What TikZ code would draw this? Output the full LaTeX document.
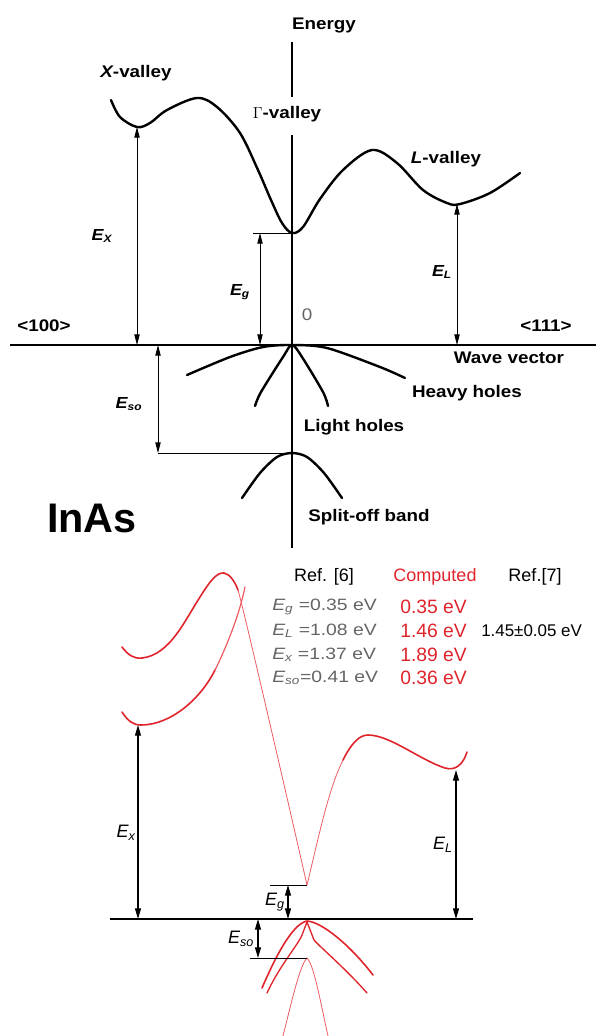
\documentclass[tikz,border=0pt]{standalone}
\usepackage{fontspec}
\setmainfont{Liberation Sans}
\newfontfamily\labfont{Liberation Sans}[FakeStretch=1.12]
\newfontfamily\grayfont{Liberation Sans}[FakeStretch=1.18]
\usetikzlibrary{arrows.meta}
\definecolor{bandred}{RGB}{224,36,44}
\definecolor{lightred}{RGB}{236,92,98}
\definecolor{txtgray}{RGB}{100,100,100}
\begin{document}
\begin{tikzpicture}[x=0.75pt,y=-0.75pt,
  axis/.style={line width=1.5pt},
  band/.style={line width=1.8pt, line cap=round, line join=round},
  dim/.style={line width=0.7pt, {Triangle[length=8pt,width=4pt]}-{Triangle[length=8pt,width=4pt]}},
  dimb/.style={line width=0.9pt, {Triangle[length=8pt,width=4.5pt]}-{Triangle[length=8pt,width=4.5pt]}},
  tickline/.style={line width=0.7pt},
  lab/.style={font=\labfont\bfseries\fontsize{12.6}{14}\selectfont, inner sep=0pt},
  elab/.style={font=\labfont\bfseries\itshape\fontsize{12}{14}\selectfont, inner sep=0pt},
  belab/.style={font=\itshape\fontsize{13.5}{15}\selectfont, inner sep=0pt},
  rband/.style={bandred, line width=1.2pt, line cap=round},
  rthin/.style={lightred, line width=0.6pt, line cap=round},
  hdr/.style={font=\fontsize{13.5}{15}\selectfont, inner sep=0pt},
  gtxt/.style={font=\grayfont\fontsize{12.3}{14}\selectfont, text=txtgray, inner sep=0pt, anchor=west},
  rtxt/.style={font=\fontsize{14.5}{16}\selectfont, text=bandred, inner sep=0pt, anchor=west}
]
\useasboundingbox (0,0) rectangle (596,1036);

% ================= TOP DIAGRAM =================
% axes
\coordinate (ey0) at (292,42);
\coordinate (ey1) at (292,97);
\coordinate (ey2) at (292,135);
\coordinate (ey3) at (292,548);
\draw[axis] (ey0) -- (ey1);
\draw[axis] (ey2) -- (ey3);
\coordinate (kx0) at (10,345);
\coordinate (kx1) at (596,345);
\draw[axis] (kx0) -- (kx1);

% conduction band
\draw[band] plot[smooth,tension=0.55] coordinates {(111,100) (120,117) (137,127) (150,123) (167,110) (197,98) (217,107) (240,133) (258,170) (271,200) (282,223) (292,233) (303,227) (320,199) (343,170) (372,150) (397,163) (423,190) (447,203) (460,204) (490,193) (520,173)};

% valence bands
\draw[band] plot[smooth,tension=0.5] coordinates {(187,375) (230,357) (263,347) (292,345) (327,348) (380,367) (405,378)};
\draw[band] plot[smooth,tension=0.5] coordinates {(255,406) (261,392) (283,357) (292,345) (302,357) (323,392) (328,406)};
\draw[band] plot[smooth,tension=0.5] coordinates {(242,498) (260,473) (277,457) (292,453) (307,457) (324,473) (342,498)};

% dimension arrows
\coordinate (xmin) at (137,127);
\coordinate (xbase) at (137,345);
\draw[dim] (xbase) -- (xmin);
\coordinate (gmin) at (292,233);
\coordinate (gtick) at (253,233);
\draw[tickline] (gtick) -- (gmin);
\coordinate (gtop) at (260,233);
\coordinate (gbase) at (260,345);
\draw[dim] (gbase) -- (gtop);
\coordinate (lmin) at (457,204);
\coordinate (lbase) at (457,345);
\draw[dim] (lbase) -- (lmin);
\coordinate (sotop) at (158,345);
\coordinate (sobot) at (158,453);
\coordinate (somax) at (292,453);
\draw[tickline] (sobot) -- (somax);
\draw[dim] (sotop) -- (sobot);

% labels
\node[lab] (energy) at (324,25) {Energy};
\node[lab] (gval) at (287,114) {$\Gamma$-valley};
\node[lab] (xval) at (136,73) {\itshape X\upshape-valley};
\node[lab] (lval) at (446,159) {\itshape L\upshape-valley};
\node[elab] (ex) at (102,236) {E\textsubscript{X}};
\node[elab] (eg) at (240,292) {E\textsubscript{g}};
\node[elab] (el) at (442,272) {E\textsubscript{L}};
\node[elab] (eso) at (129,404) {E\textsubscript{so}};
\node[lab] (k100) at (44,326) {<100>};
\node[lab] (k111) at (546,326) {<111>};
\node[font=\labfont\fontsize{12.6}{14}\selectfont, text=txtgray, inner sep=0pt] (zero) at (307,315) {0};
\node[lab] (wv) at (509,358) {Wave vector};
\node[lab] (hh) at (467,393) {Heavy holes};
\node[lab] (lh) at (354,427) {Light holes};
\node[lab] (so) at (369,517) {Split-off band};
\node[font=\bfseries\fontsize{31}{34}\selectfont, inner sep=0pt] (inas) at (92,518) {InAs};

% ================= TABLE =================
\node[hdr] (ref6) at (324,577) {Ref. [6]};
\node[hdr, text=bandred] (comp) at (435,577) {Computed};
\node[hdr] (ref7) at (535,577) {Ref.[7]};
\node[gtxt] (r1) at (272,607) {\itshape E\textsubscript{g}\upshape\ =0.35 eV};
\node[gtxt] (r2) at (272,631) {\itshape E\textsubscript{L}\upshape\ =1.08 eV};
\node[gtxt] (r3) at (272,655) {\itshape E\textsubscript{x}\upshape\ =1.37 eV};
\node[gtxt] (r4) at (272,678) {\itshape E\textsubscript{so}\upshape =0.41 eV};
\node[rtxt] (c1) at (400,607) {0.35 eV};
\node[rtxt] (c2) at (400,631) {1.46 eV};
\node[rtxt] (c3) at (400,655) {1.89 eV};
\node[rtxt] (c4) at (400,678) {0.36 eV};
\node[font=\fontsize{12.7}{14}\selectfont, inner sep=0pt, anchor=west] (e7) at (481,631) {1.45±0.05 eV};

% ================= BOTTOM DIAGRAM =================
\coordinate (bk0) at (110,919);
\coordinate (bk1) at (473,919);
\draw[axis] (bk0) -- (bk1);

% X valley curves
\draw[rband] (122,647) .. controls (128,655) and (134,659) .. (142,658)
  .. controls (170,655) and (185,620) .. (200,597)
  .. controls (210,581) and (217,572) .. (224,573)
  .. controls (230,574) and (235,582) .. (238,590);
\draw[rthin] (238,590) .. controls (242,602) and (290,810) .. (307,885);
\draw[rband] (122,712) .. controls (128,721) and (133,725) .. (141,725)
  .. controls (170,725) and (200,700) .. (215,670);
\draw[rthin, line width=0.9pt] (215,670) .. controls (228,644) and (240,612) .. (245,587);
% Gamma right branch and L valley
\draw[rthin] (307,885) .. controls (318,840) and (328,790) .. (343,760);
\draw[rband] (343,760) .. controls (352,742) and (360,735) .. (368,735)
  .. controls (390,735) and (420,760) .. (445,768)
  .. controls (455,771) and (463,765) .. (467,752);

% valence bands
\draw[rband] (262,988) .. controls (275,958) and (292,924) .. (307,921)
  .. controls (322,922) and (350,945) .. (373,975);
\draw[rband, line width=1pt] (267,993) .. controls (280,965) and (298,945) .. (302,935) -- (307,922);
\draw[rband, line width=1pt] (307,922) -- (314,940) .. controls (320,947) and (345,968) .. (367,993);
\draw[rthin] (283,1036) .. controls (292,1000) and (300,965) .. (307,958)
  .. controls (314,965) and (320,1000) .. (328,1036);

% dimension arrows
\coordinate (bxmin) at (138,725);
\coordinate (bxbase) at (138,919);
\draw[dimb] (bxbase) -- (bxmin);
\coordinate (bgmin) at (307,885);
\coordinate (bgtick) at (270,885);
\draw[tickline] (bgtick) -- (bgmin);
\coordinate (bgtop) at (288,885);
\coordinate (bgbase) at (288,919);
\draw[dimb] (bgbase) -- (bgtop);
\coordinate (blmin) at (456,770);
\coordinate (blbase) at (456,919);
\draw[dimb] (blbase) -- (blmin);
\coordinate (bsotop) at (258,919);
\coordinate (bsobot) at (258,958);
\coordinate (bsomax) at (307,958);
\coordinate (bsotick) at (250,958);
\draw[tickline] (bsotick) -- (bsomax);
\draw[dimb] (bsotop) -- (bsobot);

\node[belab] (bex) at (126,833) {E\textsubscript{x}};
\node[belab] (beg) at (275,902) {E\textsubscript{g}};
\node[belab] (bel) at (443,845) {E\textsubscript{L}};
\node[belab] (beso) at (241,939) {E\textsubscript{so}};
\end{tikzpicture}
\end{document}
